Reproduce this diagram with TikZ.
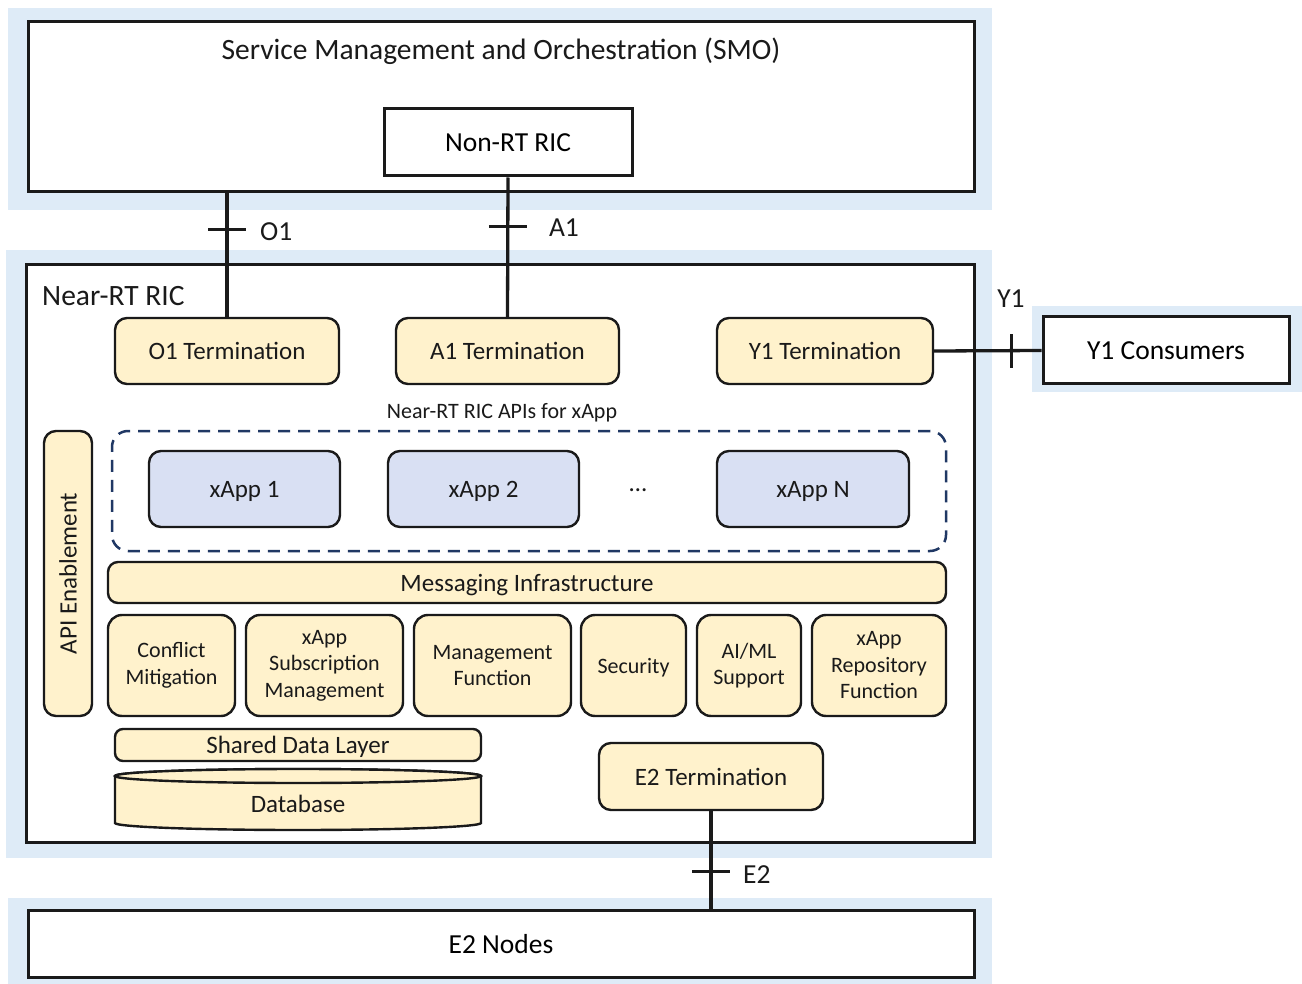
\documentclass[tikz,border=0pt]{standalone}
\usepackage{fontspec}
\setmainfont{Carlito}
\usetikzlibrary{calc}

\definecolor{panelblue}{HTML}{DEEBF7}
\definecolor{cream}{HTML}{FFF2CC}
\definecolor{xappblue}{HTML}{D9E0F3}
\definecolor{navy}{HTML}{203864}
\definecolor{ink}{HTML}{1A1A1A}

\tikzset{
  panel/.style={fill=panelblue, draw=none},
  frame/.style={draw=ink, line width=3pt, fill=white, rectangle, inner sep=0pt},
  block/.style={draw=ink, line width=2.4pt, fill=cream, rounded corners=12pt,
                align=center, inner sep=0pt, text=ink},
  xappbox/.style={block, fill=xappblue},
  link/.style={draw=ink, line width=3.3pt},
  tickmark/.style={draw=ink, line width=2.5pt},
  txt/.style={inner sep=0pt, text=ink},
  % single-line labels are centred on their letters, not on their descenders
  flat/.style={text depth=0pt},
  huge/.style={font=\fontsize{29.5}{35}\selectfont, flat},
  big/.style={font=\fontsize{27.5}{33}\selectfont, flat},
  mid/.style={font=\fontsize{25}{30}\selectfont, flat},
  small/.style={font=\fontsize{22}{26.5}\selectfont},
}

\begin{document}
\begin{tikzpicture}[x=1pt, y=-1pt]
\useasboundingbox (0,0) rectangle (1302,984);

% light blue panels behind the main blocks
\fill[panel] (8,8) rectangle (992,210);
\fill[panel] (6,250) rectangle (992,858);
\fill[panel] (1032,306) rectangle (1302,392);
\fill[panel] (8,898) rectangle (992,984);

% SMO
\node[frame, minimum width=946pt, minimum height=170pt] (smo) at (501,107) {};
\node[txt, huge] (smotitle) at (501,49) {Service Management and Orchestration (SMO)};
\node[frame, big, minimum width=248pt, minimum height=67pt] (nonrt) at (508,142.5) {Non-RT RIC};

% Near-RT RIC frame
\node[frame, minimum width=948pt, minimum height=577pt] (nearrt) at (500,553.5) {};
\node[txt, huge, anchor=west] (nearlab) at (42,296) {Near-RT RIC};

% external blocks
\node[frame, big, minimum width=246pt, minimum height=67pt] (y1c) at (1166,350.5) {Y1 Consumers};
\node[frame, big, minimum width=946pt, minimum height=67pt] (e2n) at (501,943.5) {E2 Nodes};

% terminations
\node[block, mid, minimum width=224pt, minimum height=66pt] (o1t) at (227,351) {O1 Termination};
\node[block, mid, minimum width=223pt, minimum height=66pt] (a1t) at (507.5,351) {A1 Termination};
\node[block, mid, minimum width=216pt, minimum height=66pt] (y1t) at (825,351) {Y1 Termination};

% xApps
\node[txt, small, flat] (apis) at (502,411) {Near-RT RIC APIs for xApp};
\node[draw=navy, line width=2.5pt, dash pattern=on 12pt off 8pt, rounded corners=16pt,
      minimum width=834pt, minimum height=120pt, inner sep=0pt] (xapps) at (529,491) {};
\node[xappbox, mid, minimum width=191pt, minimum height=76pt] (xapp1) at (244.5,489) {xApp 1};
\node[xappbox, mid, minimum width=191pt, minimum height=76pt] (xapp2) at (483.5,489) {xApp 2};
\node[txt, mid] (dots) at (638,490) {…};
\node[xappbox, mid, minimum width=192pt, minimum height=76pt] (xappn) at (813,489) {xApp N};

% platform functions
\node[block, mid, rotate=90, minimum width=285pt, minimum height=48pt] (api) at (68,573.5) {API Enablement};
\node[block, mid, rounded corners=10pt, minimum width=838pt, minimum height=41pt] (msg) at (527,582.5) {Messaging Infrastructure};

\begin{scope}[every node/.style={block, small, rounded corners=14pt, minimum height=101pt}]
\node[minimum width=127pt] (cm)   at (171.5,665.5) {Conflict\\Mitigation};
\node[minimum width=157pt] (xsm)  at (324.5,665.5) {xApp\\Subscription\\Management};
\node[minimum width=157pt] (mf)   at (492.5,665.5) {Management\\Function};
\node[minimum width=105pt, flat] (sec) at (633.5,665.5) {Security};
\node[minimum width=104pt] (aiml) at (749,665.5)   {AI/ML\\Support};
\node[minimum width=134pt] (xrf)  at (879,665.5)   {xApp\\Repository\\Function};
\end{scope}

\node[block, mid, rounded corners=8pt, minimum width=366pt, minimum height=32pt] (sdl) at (298,745) {Shared Data Layer};

% database cylinder
\draw[draw=ink, line width=2.4pt, fill=cream]
  (115,776) -- (115,823)
  arc[start angle=180, end angle=360, x radius=183pt, y radius=7pt]
  -- (481,776)
  arc[start angle=0, end angle=180, x radius=183pt, y radius=7pt] -- cycle;
\draw[draw=ink, line width=2.4pt, fill=cream] (298,776) ellipse [x radius=183pt, y radius=7pt];
\node[txt, mid] (db) at (298,804) {Database};

\node[block, mid, minimum width=224pt, minimum height=67pt] (e2t) at (711,776.5) {E2 Termination};

% interfaces
\coordinate (o1top) at (o1t.north |- smo.south);
\coordinate (e2bot) at (e2t.south |- e2n.north);

\draw[link] (o1top) -- coordinate[pos=0.294] (o1tick) (o1t.north);
\draw[tickmark] ([xshift=-19pt]o1tick) -- ([xshift=19pt]o1tick);
\node[txt, big, anchor=west] (o1lab) at ([xshift=33pt, yshift=-2pt]o1tick) {O1};

\draw[link] (nonrt.south) -- coordinate[pos=0.352] (a1tick) (a1t.north);
\draw[tickmark] ([xshift=-19pt]a1tick) -- ([xshift=19pt]a1tick);
\node[txt, big, anchor=west] (a1lab) at ([xshift=41pt, yshift=-1pt]a1tick) {A1};

\draw[link] (y1t.east) -- coordinate[pos=0.718] (y1tick) (y1c.west);
\draw[tickmark] ([yshift=-17pt]y1tick) -- ([yshift=17pt]y1tick);
\node[txt, big] (y1lab) at (1011,299) {Y1};

\draw[link] (e2t.south) -- coordinate[pos=0.62] (e2tick) (e2bot);
\draw[tickmark] ([xshift=-19pt]e2tick) -- ([xshift=19pt]e2tick);
\node[txt, big, anchor=west] (e2lab) at ([xshift=32pt, yshift=-3pt]e2tick) {E2};
\end{tikzpicture}
\end{document}
